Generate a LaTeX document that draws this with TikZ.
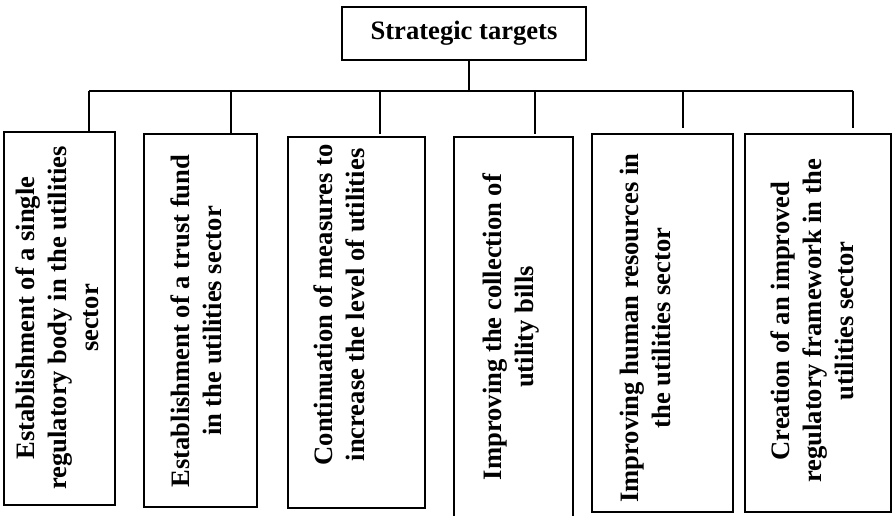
\documentclass[tikz,border=0pt]{standalone}
\usepackage{fontspec}
\setmainfont{Liberation Serif}

\begin{document}
\begin{tikzpicture}[x=1pt, y=1pt, font=\bfseries\fontsize{26.6}{32}\selectfont]
    \tikzstyle{goal}=[draw, line width=2pt, inner sep=0pt]
    \tikzstyle{goaltext}=[rotate=90, align=center, inner sep=0pt]
    \tikzstyle{link}=[line width=1.5pt]
    \useasboundingbox (0,0) rectangle (893,515);

    \node[goal, minimum width=244pt, minimum height=53pt] (st) at (464,481.5) {Strategic targets};

    \node[goal, minimum width=111pt, minimum height=373pt] (g1) at (59.5,196.5) {};
    \node[goal, minimum width=113pt, minimum height=373pt] (g2) at (200.5,194.5) {};
    \node[goal, minimum width=137pt, minimum height=371pt] (g3) at (356.5,192.5) {};
    \node[goal, minimum width=119pt, minimum height=403pt] (g4) at (513.5,176.5) {};
    \node[goal, minimum width=141pt, minimum height=378pt] (g5) at (662.5,192) {};
    \node[goal, minimum width=146pt, minimum height=378pt] (g6) at (818,192) {};

    \node[goaltext] (t1) at (57,197) {Establishment of a single\\regulatory body in the utilities\\sector};
    \node[goaltext] (t2) at (196,194) {Establishment of a trust fund\\in the utilities sector};
    \node[goaltext] (t3) at (339,210) {Continuation of measures to\\increase the level of utilities};
    \node[goaltext] (t4) at (511,188) {Improving the collection of\\utility bills};
    \node[goaltext] (t5) at (645,187) {Improving human resources in\\the utilities sector};
    \node[goaltext] (t6) at (812,194) {Creation of an improved\\regulatory framework in the\\utilities sector};

    % bus
    \coordinate (j0) at (469,424);
    \coordinate (b1) at (89,424);
    \coordinate (b2) at (231,424);
    \coordinate (b3) at (380,424);
    \coordinate (b4) at (535,424);
    \coordinate (b5) at (683,424);
    \coordinate (b6) at (853,424);
    \coordinate (e3) at (380,381);
    \coordinate (e4) at (535,381);
    \coordinate (e5) at (683,387);
    \coordinate (e6) at (853,387);

    \draw[link] (st.south -| j0) -- (j0);
    \draw[link] (b1) -- (b6);
    \draw[link] (b1) -- (b1 |- g1.north);
    \draw[link] (b2) -- (b2 |- g2.north);
    \draw[link] (b3) -- (e3);
    \draw[link] (b4) -- (e4);
    \draw[link] (b5) -- (e5);
    \draw[link] (b6) -- (e6);
\end{tikzpicture}
\end{document}
